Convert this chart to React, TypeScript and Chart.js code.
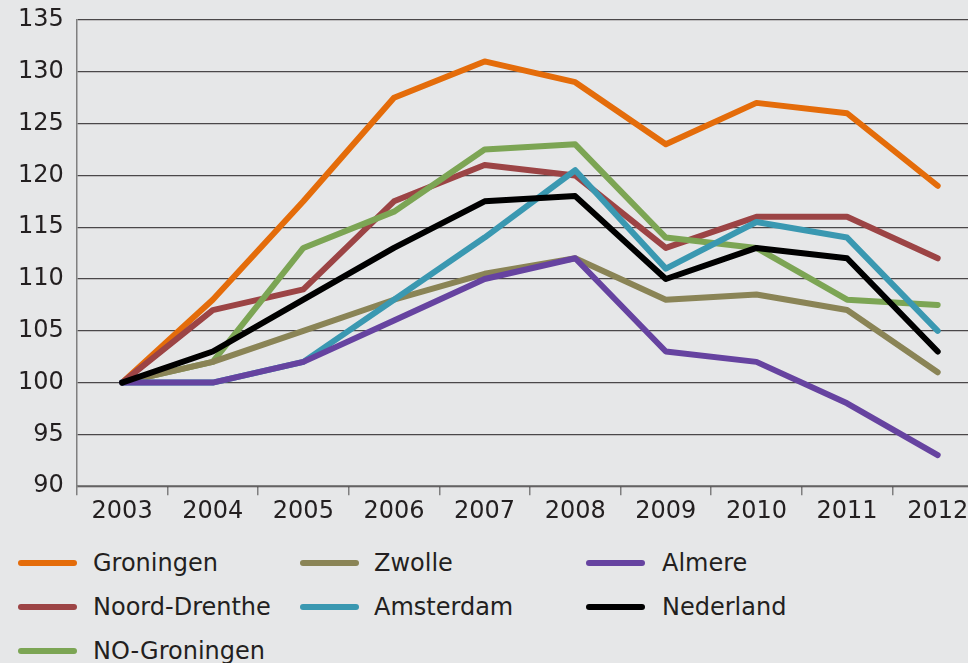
import React, { useEffect, useRef } from "react";
import { Chart, registerables } from "chart.js";

Chart.register(...registerables);

const years = ["2003", "2004", "2005", "2006", "2007", "2008", "2009", "2010", "2011", "2012"];

const groningen = [100, 108, 117.5, 127.5, 131, 129, 123, 127, 126, 119];
const noordDrenthe = [100, 107, 109, 117.5, 121, 120, 113, 116, 116, 112];
const noGroningen = [100, 102, 113, 116.5, 122.5, 123, 114, 113, 108, 107.5];
const zwolle = [100, 102, 105, 108, 110.5, 112, 108, 108.5, 107, 101];
const amsterdam = [100, 100, 102, 108, 114, 120.5, 111, 115.5, 114, 105];
const almere = [100, 100, 102, 106, 110, 112, 103, 102, 98, 93];
const nederland = [100, 103, 108, 113, 117.5, 118, 110, 113, 112, 103];

const yMin = 90;
const yMax = 135;
const yStep = 5;

const series = [
  { label: "Groningen", data: groningen, color: "#e46c0a", order: 6, col: 0, row: 0 },
  { label: "Noord-Drenthe", data: noordDrenthe, color: "#9c4445", order: 5, col: 0, row: 1 },
  { label: "NO-Groningen", data: noGroningen, color: "#7ca554", order: 4, col: 0, row: 2 },
  { label: "Zwolle", data: zwolle, color: "#8a8456", order: 3, col: 1, row: 0 },
  { label: "Amsterdam", data: amsterdam, color: "#3a98b1", order: 2, col: 1, row: 1 },
  { label: "Almere", data: almere, color: "#6643a0", order: 1, col: 2, row: 0 },
  { label: "Nederland", data: nederland, color: "#000000", order: 0, col: 2, row: 1 },
];

const FONT = "'DejaVu Sans', Verdana, sans-serif";
const TEXT = "#231f20";
const BG = "#e6e7e8";

const colLineX = [18, 300, 586];
const colTextX = [93, 374, 662];
const rowY = [563, 607, 651];

export default function App() {
  const ref = useRef<HTMLCanvasElement | null>(null);

  useEffect(() => {
    if (!ref.current) return;
    const chart = new Chart(ref.current, {
      type: "line",
      data: {
        labels: years,
        datasets: series.map((s) => ({
          label: s.label,
          data: s.data,
          borderColor: s.color,
          backgroundColor: s.color,
          borderWidth: 6,
          pointRadius: 0,
          pointHoverRadius: 0,
          tension: 0,
          fill: false,
          order: s.order,
          borderCapStyle: "round" as const,
          borderJoinStyle: "round" as const,
        })),
      },
      options: {
        responsive: false,
        animation: false,
        layout: { padding: { top: 20, left: 5, right: 17, bottom: 15 } },
        plugins: {
          legend: { display: false },
          tooltip: { enabled: false },
        },
        scales: {
          x: {
            type: "category",
            offset: true,
            grid: {
              offset: true,
              drawOnChartArea: false,
              drawTicks: true,
              tickLength: 9,
              color: "#7f7f7f",
              lineWidth: 1.5,
            },
            border: { display: true, color: "#7f7f7f", width: 1.5 },
            ticks: {
              color: TEXT,
              font: { family: FONT, size: 24 },
              padding: 2,
              maxRotation: 0,
              autoSkip: false,
            },
          },
          y: {
            min: yMin,
            max: yMax,
            z: 1,
            grid: {
              drawTicks: false,
              color: "rgba(35,31,32,0.8)",
              lineWidth: 1.3,
            },
            border: { display: true, color: "#7f7f7f", width: 1.5 },
            ticks: {
              stepSize: yStep,
              color: TEXT,
              font: { family: FONT, size: 24, lineHeight: 0.4 },
              padding: 13,
            },
          },
        },
      },
    });
    return () => chart.destroy();
  }, []);

  return (
    <div
      style={{
        position: "fixed",
        left: 0,
        top: 0,
        width: 968,
        height: 663,
        overflow: "hidden",
        background: BG,
        fontFamily: FONT,
      }}
    >
      <canvas
        ref={ref}
        width={1000}
        height={543}
        style={{ position: "absolute", left: 0, top: 0, width: 1000, height: 543 }}
      />
      {series.map((s) => (
        <React.Fragment key={s.label}>
          <div
            style={{
              position: "absolute",
              left: colLineX[s.col],
              top: rowY[s.row] - 3,
              width: 59,
              height: 6,
              borderRadius: 3,
              background: s.color,
            }}
          />
          <div
            style={{
              position: "absolute",
              left: colTextX[s.col],
              top: rowY[s.row] - 15,
              height: 30,
              lineHeight: "30px",
              fontSize: 24,
              color: TEXT,
              whiteSpace: "nowrap",
            }}
          >
            {s.label}
          </div>
        </React.Fragment>
      ))}
    </div>
  );
}
